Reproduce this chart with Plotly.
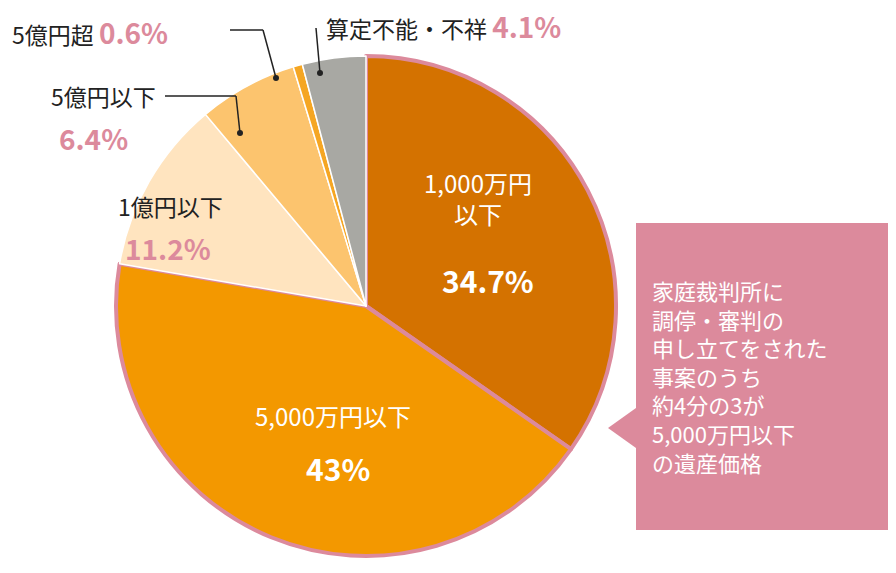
import plotly.graph_objects as go

categories = ["1,000万円以下", "5,000万円以下", "1億円以下", "5億円以下", "5億円超", "算定不能・不祥"]
values = [34.7, 43, 11.2, 6.4, 0.6, 4.1]
colors = ["#D47200", "#F39800", "#FFE4BF", "#FCC46E", "#F5A623", "#A8A8A3"]
line_colors = ["#DC8A9C", "#DC8A9C", "white", "white", "white", "white"]
line_widths = [4, 4, 1.5, 1.5, 1.5, 1.5]

W, H = 896, 573
cx, cy, r = 358, 298, 250
fig = go.Figure(go.Pie(
    labels=categories, values=values, sort=False, direction="clockwise", rotation=0,
    marker=dict(colors=colors, line=dict(color=line_colors, width=line_widths)),
    textinfo="none", hoverinfo="label+percent", showlegend=False,
    domain=dict(x=[(cx - r) / W, (cx + r) / W], y=[(H - cy - r) / H, (H - cy + r) / H]),
))

F = "Noto Sans CJK JP"
pink = "#DC8A9C"
def px(x): return x / W
def py(y): return 1 - y / H
def ann(x, y, t, size, color, xa="center", align="center"):
    fig.add_annotation(x=px(x), y=py(y), xref="paper", yref="paper", text=t, align=align,
                       showarrow=False, xanchor=xa, yanchor="middle", font=dict(family=F, size=size, color=color))

def pct(t, size=28):
    return "<span style='color:%s;font-size:%dpx'><b>%s</b></span>" % (pink, size, t)

ann(470, 190, "1,000万円<br>以下", 24, "white")
ann(480, 272, "<b>34.7%</b>", 30, "white")
ann(325, 407, "5,000万円以下", 24, "white")
ann(330, 460, "<b>43%</b>", 30, "white")
ann(217, 198, "1億円以下", 23, "#222", xa="right")
ann(205, 240, pct("11.2%"), 28, pink, xa="right")
ann(150, 88, "5億円以下", 23, "#222", xa="right")
ann(122, 130, pct("6.4%"), 28, pink, xa="right")
ann(2, 24, "5億円超 " + pct("0.6%"), 23, "#222", xa="left")
ann(316, 18, "算定不能・不祥 " + pct("4.1%"), 23, "#222", xa="left")
ann(642, 368, "家庭裁判所に<br>調停・審判の<br>申し立てをされた<br>事案のうち<br>約4分の3が<br>5,000万円以下<br>の遺産価格",
    22, "white", xa="left", align="left")

shapes = [
    dict(type="rect", x0=px(628), x1=px(893), y0=py(215), y1=py(522), fillcolor=pink, line_width=0),
    dict(type="path", path="M %f %f L %f %f L %f %f Z" % (px(628), py(400), px(600), py(420), px(628), py(440)),
         fillcolor=pink, line_width=0),
    dict(type="line", x0=px(157), y0=py(88), x1=px(228), y1=py(88)),
    dict(type="line", x0=px(228), y0=py(88), x1=px(232), y1=py(125)),
    dict(type="line", x0=px(222), y0=py(22), x1=px(255), y1=py(22)),
    dict(type="line", x0=px(255), y0=py(22), x1=px(268), y1=py(70)),
    dict(type="line", x0=px(308), y0=py(20), x1=px(312), y1=py(65)),
]
for s in shapes:
    s.update(xref="paper", yref="paper")
    if s["type"] == "line":
        s["line"] = dict(color="#222", width=1.5)
    fig.add_shape(s)
for (x, y) in [(232, 125), (268, 70), (312, 65)]:
    fig.add_shape(type="circle", xref="paper", yref="paper", x0=px(x - 3), x1=px(x + 3),
                  y0=py(y + 3), y1=py(y - 3), fillcolor="#222", line_width=0)

fig.update_layout(width=W, height=H, margin=dict(l=0, r=0, t=0, b=0),
                  paper_bgcolor="white", plot_bgcolor="white")
fig.write_html("out.html")
